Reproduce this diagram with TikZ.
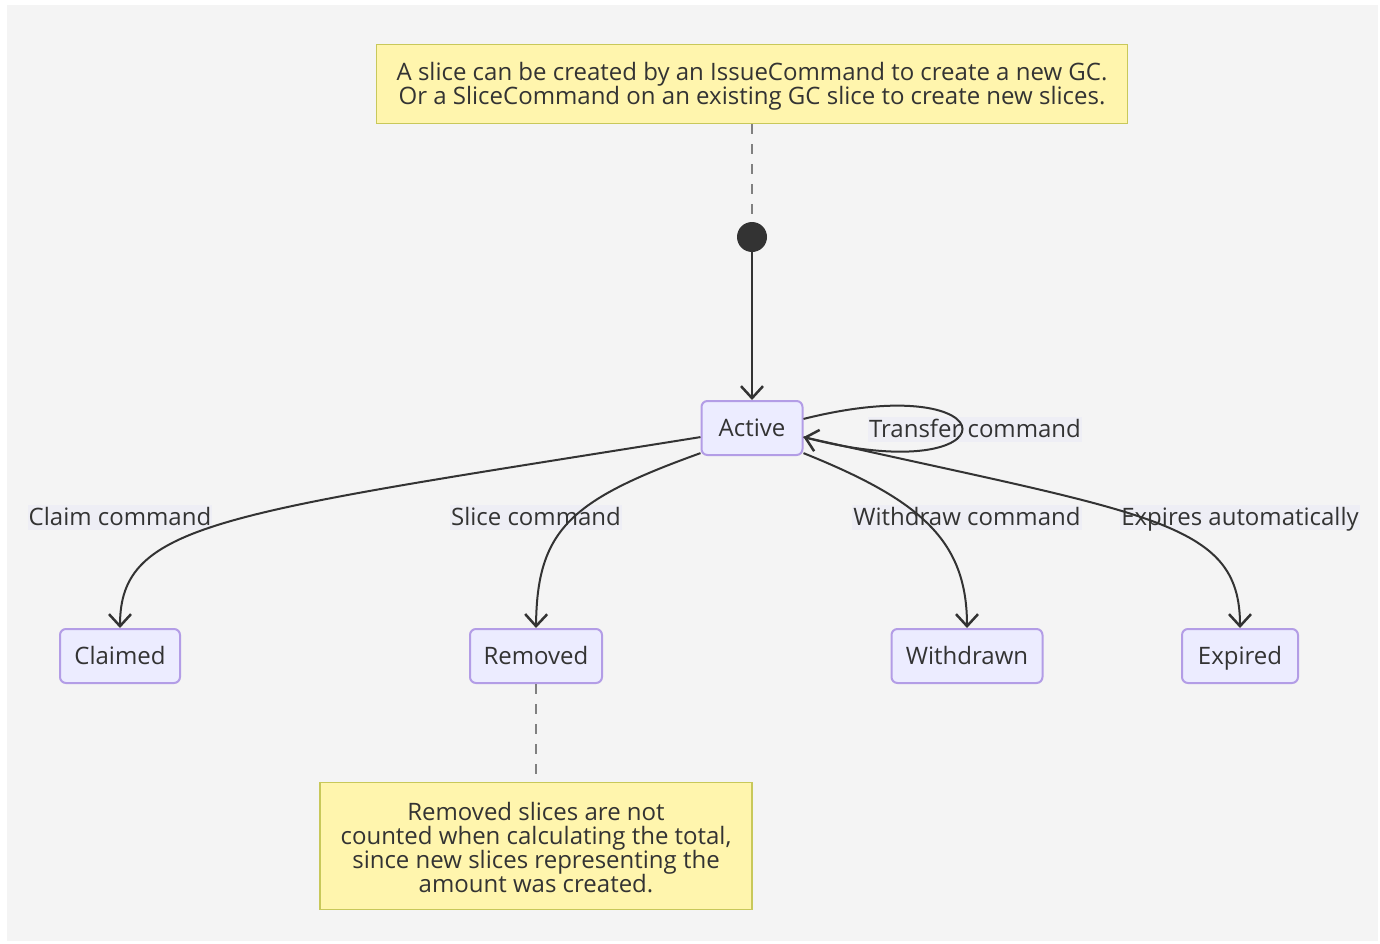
\documentclass[tikz,border=0pt]{standalone}
\usepackage{fontspec}
\setmainfont{Open Sans}
\usetikzlibrary{positioning, arrows.meta}
\definecolor{statefill}{HTML}{ECECFF}
\definecolor{stateline}{HTML}{B39DE6}
\definecolor{notefill}{HTML}{FFF5AD}
\definecolor{noteline}{HTML}{C8C85A}
\definecolor{edgeline}{HTML}{333333}
\definecolor{labelbg}{HTML}{EDEDF6}
\definecolor{bggray}{HTML}{F4F4F4}

\begin{document}
\begin{tikzpicture}[x=1pt,y=-1pt,font=\fontsize{24}{24}\selectfont,text=edgeline,
	state/.style={draw=stateline,fill=statefill,line width=2pt,rounded corners=6pt,minimum height=54pt,inner sep=0pt,text height=20pt,text depth=3pt},
	note/.style={draw=noteline,fill=notefill,line width=1.5pt,align=center,inner sep=0pt},
	trans/.style={draw=edgeline,line width=2pt,-{Straight Barb[length=12pt,width=22pt,line width=2.5pt]}},
	lbl/.style={fill=labelbg,fill opacity=0.8,text opacity=1,inner sep=1pt,text height=20pt,text depth=3pt},
	notelink/.style={draw=gray,line width=2pt,dash pattern=on 10pt off 10pt}]
	
	%Background
	\fill[white] (0,0) rectangle (1380,944);
	\fill[bggray] (7,5) rectangle (1378,941);
	\useasboundingbox (0,0) rectangle (1380,944);
	
	%Notes
	\node[note,minimum width=751pt,minimum height=79pt] (topnote) at (752,84)
	{\rule{0pt}{22pt}A slice can be created by an IssueCommand to create a new GC.\\
	Or a SliceCommand on an existing GC slice to create new slices.};
	\node[note,minimum width=432pt,minimum height=127pt] (removednote) at (536,846)
	{\rule{0pt}{22pt}Removed slices are not\\ counted when calculating the total,\\ since new slices representing the\\ amount was created.};
	
	%States
	\node[circle,fill=edgeline,minimum size=30pt,inner sep=0pt] (start) at (752,237) {};
	\node[state,minimum width=101pt] (active) at (752,428) {Active};
	\node[state,minimum width=120pt] (claimed) at (120,656) {Claimed};
	\node[state,minimum width=132pt] (removed) at (536,656) {Removed};
	\node[state,minimum width=151pt] (withdrawn) at (967,656) {Withdrawn};
	\node[state,minimum width=116pt] (expired) at (1240,656) {Expired};
	
	%Edge labels
	\node[lbl] (l_claim) at (120,517) {Claim command};
	\node[lbl] (l_slice) at (536,517) {Slice command};
	\node[lbl] (l_withdraw) at (967,517) {Withdraw command};
	\node[lbl] (l_expire) at (1240,517) {Expires automatically};
	\node[lbl] (l_transfer) at (975,429) {Transfer command};
	
	%Note links
	\draw[notelink] (topnote) -- (start);
	\draw[notelink] (removed) -- (removednote);
	
	%Transitions
	\draw[trans] (start) -- (active);
	\draw[trans] (active.10) .. controls (1015,366) and (1015,492) .. (active.-10);
	\draw[trans] (active.190) .. controls (220,514) and (120,522) .. (claimed.north);
	\draw[trans] (active.206) .. controls (570,500) and (537,530) .. (removed.north);
	\draw[trans] (active.-26) .. controls (920,500) and (967,540) .. (withdrawn.north);
	\draw[trans] (active.-10) .. controls (1150,515) and (1240,520) .. (expired.north);
	
\end{tikzpicture}
\end{document}
